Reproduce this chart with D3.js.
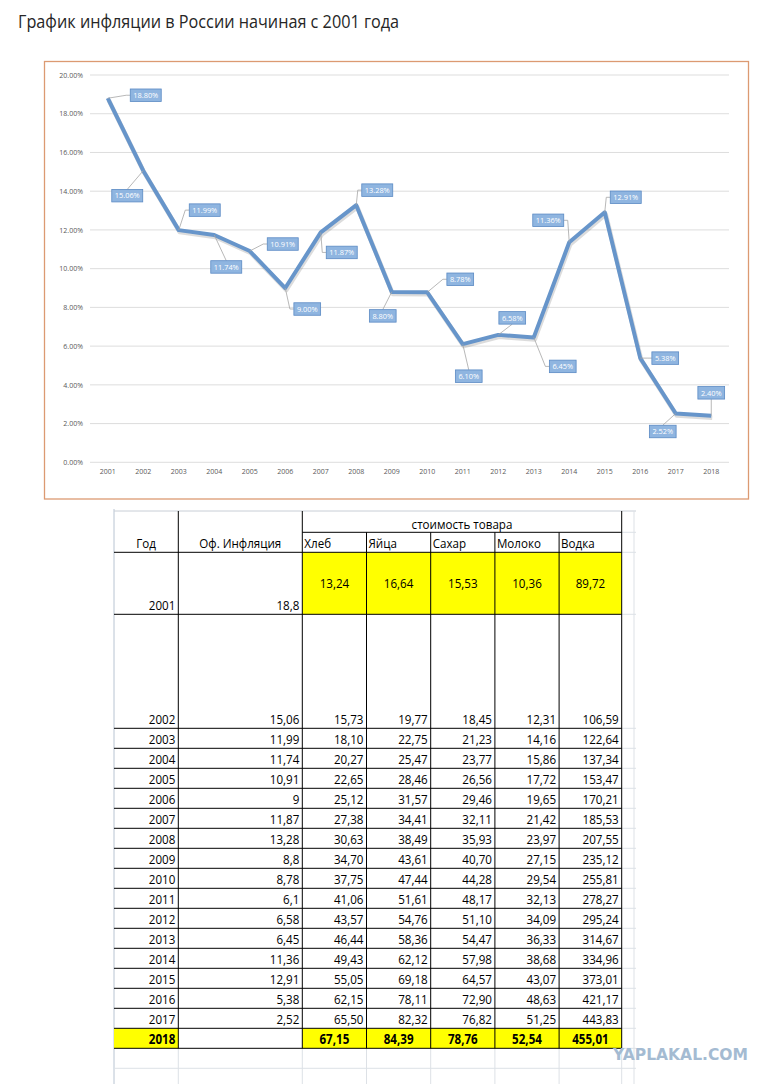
<!DOCTYPE html>
<html>
<head>
<meta charset="utf-8">
<script src="https://cdn.jsdelivr.net/npm/d3@7"></script>
<style>
  html, body { margin: 0; padding: 0; background: #fff; }
  svg { display: block; }
</style>
</head>
<body>
<svg id="root" width="774" height="1084"></svg>
<script>
// ---------------- DATA ----------------
const years = [2001, 2002, 2003, 2004, 2005, 2006, 2007, 2008, 2009, 2010, 2011, 2012, 2013, 2014, 2015, 2016, 2017, 2018];
const inflation = [18.80, 15.06, 11.99, 11.74, 10.91, 9.00, 11.87, 13.28, 8.80, 8.78, 6.10, 6.58, 6.45, 11.36, 12.91, 5.38, 2.52, 2.40];
const yTicks = [0, 2, 4, 6, 8, 10, 12, 14, 16, 18, 20];

const tableYears = [2001, 2002, 2003, 2004, 2005, 2006, 2007, 2008, 2009, 2010, 2011, 2012, 2013, 2014, 2015, 2016, 2017, 2018];
const tableInflation = [18.8, 15.06, 11.99, 11.74, 10.91, 9, 11.87, 13.28, 8.8, 8.78, 6.1, 6.58, 6.45, 11.36, 12.91, 5.38, 2.52, null];
const bread = [13.24, 15.73, 18.10, 20.27, 22.65, 25.12, 27.38, 30.63, 34.70, 37.75, 41.06, 43.57, 46.44, 49.43, 55.05, 62.15, 65.50, 67.15];
const eggs  = [16.64, 19.77, 22.75, 25.47, 28.46, 31.57, 34.41, 38.49, 43.61, 47.44, 51.61, 54.76, 58.36, 62.12, 69.18, 78.11, 82.32, 84.39];
const sugar = [15.53, 18.45, 21.23, 23.77, 26.56, 29.46, 32.11, 35.93, 40.70, 44.28, 48.17, 51.10, 54.47, 57.98, 64.57, 72.90, 76.82, 78.76];
const milk  = [10.36, 12.31, 14.16, 15.86, 17.72, 19.65, 21.42, 23.97, 27.15, 29.54, 32.13, 34.09, 36.33, 38.68, 43.07, 48.63, 51.25, 52.54];
const vodka = [89.72, 106.59, 122.64, 137.34, 153.47, 170.21, 185.53, 207.55, 235.12, 255.81, 278.27, 295.24, 314.67, 334.96, 373.01, 421.17, 443.83, 455.01];
const productNames = ["Хлеб", "Яйца", "Сахар", "Молоко", "Водка"];

const titleText = "График инфляции в России начиная с 2001 года";
const headerYear = "Год";
const headerInfl = "Оф. Инфляция";
const headerGroup = "стоимость товара";
const watermark = "YAPLAKAL.COM";

// label placement offsets (px, box centre relative to point) - layout only
const labelOffsets = [[38,-3],[-16,25],[26,-20],[12,32],[33,-7],[22,21],[21,20],[21,-15],[-9,24],[33,-13],[6,32],[14,-17],[29,29],[-21,-22],[21,-15],[25,0],[-13,18],[0,-23]];

// ---------------- DRAW ----------------
const svg = d3.select("#root");
const FONT = "'Open Sans', 'Noto Sans', 'DejaVu Sans', sans-serif";

// Title
const title = svg.append("text")
  .attr("x", 18).attr("y", 28)
  .attr("font-family", FONT)
  .attr("font-size", 18)
  .attr("fill", "#262626")
  .text(titleText);
title.attr("textLength", 381).attr("lengthAdjust", "spacingAndGlyphs");

// Chart frame
svg.append("rect")
  .attr("x", 44.5).attr("y", 61.5).attr("width", 704).attr("height", 437.5)
  .attr("fill", "#fff").attr("stroke", "#dc9a72").attr("stroke-width", 1.3);

const x = d3.scaleBand().domain(years).range([90, 729]);
const y = d3.scaleLinear().domain([0, 20]).range([462.3, 75]);
const cx = d => x(d) + x.bandwidth() / 2;

// gridlines
svg.append("g").selectAll("line").data(yTicks).join("line")
  .attr("x1", 90).attr("x2", 729)
  .attr("y1", d => y(d)).attr("y2", d => y(d))
  .attr("stroke", "#d9d9d9").attr("stroke-width", 0.9);

// y axis labels
const yAxis = d3.axisLeft(y).tickValues(yTicks).tickSize(0).tickPadding(0)
  .tickFormat(d => d.toFixed(2) + "%");
const gy = svg.append("g").attr("transform", "translate(83,0)").call(yAxis);
gy.select(".domain").remove();
gy.selectAll("text").attr("font-family", FONT).attr("font-size", 7).attr("fill", "#595959");

// x axis labels
const xAxis = d3.axisBottom(x).tickSize(0).tickPadding(0);
const gx = svg.append("g").attr("transform", "translate(0,469)").call(xAxis);
gx.select(".domain").remove();
gx.selectAll("text").attr("font-family", FONT).attr("font-size", 7).attr("fill", "#595959");

// line
const line = d3.line().x((d, i) => cx(years[i])).y(d => y(d));
svg.append("path").datum(inflation)
  .attr("d", line).attr("fill", "none")
  .attr("stroke", "rgba(60,60,60,0.18)").attr("stroke-width", 4.5)
  .attr("stroke-linejoin", "round")
  .attr("transform", "translate(1,2)");
svg.append("path").datum(inflation)
  .attr("d", line).attr("fill", "none")
  .attr("stroke", "#6795ca").attr("stroke-width", 4)
  .attr("stroke-linejoin", "round");

// data labels
const lblG = svg.append("g");
inflation.forEach((v, i) => {
  const px = cx(years[i]), py = y(v);
  const [dx, dy] = labelOffsets[i];
  const bx = px + dx, by = py + dy;
  const g = lblG.append("g");
  const t = g.append("text")
    .attr("x", bx).attr("y", by + 2.7)
    .attr("text-anchor", "middle")
    .attr("font-family", FONT).attr("font-size", 7.4)
    .attr("fill", "#fff")
    .text(v.toFixed(2) + "%");
  const tw = t.node().getComputedTextLength();
  const w = tw + 6, h = 12.5;
  // leader
  let pts;
  if (Math.abs(dx) > w / 2 + 2) {
    const ex = dx > 0 ? bx - w / 2 : bx + w / 2;
    const sx = dx > 0 ? ex - 4 : ex + 4;
    pts = [[px, py], [sx, by], [ex, by]];
  } else {
    const ey = dy > 0 ? by - h / 2 : by + h / 2;
    pts = [[px, py], [bx, ey]];
  }
  g.insert("path", "text")
    .attr("d", d3.line()(pts))
    .attr("fill", "none").attr("stroke", "#a6a6a6").attr("stroke-width", 0.8);
  g.insert("rect", "text")
    .attr("x", bx - w / 2).attr("y", by - h / 2)
    .attr("width", w).attr("height", h)
    .attr("fill", "#8fb5e0").attr("stroke", "#5b8ac4").attr("stroke-width", 0.8);
});

// ---------------- TABLE ----------------
const colX = [114, 178.3, 302.3, 366.5, 430.7, 494.9, 559.1, 621.7];
const rowTop = 511, rowH1 = 532.3, rowH2 = 552.3;
const rowBottoms = [614.3, 728.3];
for (let i = 2; i < tableYears.length; i++) rowBottoms.push(728.3 + (i - 1) * 20);
const rowTops = [rowH2].concat(rowBottoms.slice(0, -1));
const tableBottom = rowBottoms[rowBottoms.length - 1];

const tg = svg.append("g");
const TFONT = FONT;
const TSIZE = 13.5;
const SX = 0.86;

function cellText(xp, yp, txt, anchor, bold) {
  tg.append("text")
    .attr("transform", `translate(${xp},${yp}) scale(${SX},1)`)
    .attr("text-anchor", anchor)
    .attr("font-family", TFONT).attr("font-size", TSIZE)
    .attr("font-weight", bold ? "bold" : "normal")
    .attr("fill", "#000")
    .text(txt);
}

// faint excel gridlines
const faint = "#dde1e6";
tg.append("line").attr("x1", 114).attr("x2", 114).attr("y1", 509).attr("y2", 1084).attr("stroke", "#b8c4d2").attr("stroke-width", 1);
tg.append("line").attr("x1", 114).attr("x2", 636).attr("y1", rowTop).attr("y2", rowTop).attr("stroke", "#c8ced6").attr("stroke-width", 1);
colX.slice(1).forEach(cx0 => {
  tg.append("line").attr("x1", cx0).attr("x2", cx0).attr("y1", tableBottom).attr("y2", 1084).attr("stroke", faint).attr("stroke-width", 1);
});
tg.append("line").attr("x1", 114).attr("x2", 636).attr("y1", tableBottom + 20).attr("y2", tableBottom + 20).attr("stroke", faint);
[rowH1, rowH2].concat(rowBottoms).forEach(yy => {
  tg.append("line").attr("x1", 622).attr("x2", 636).attr("y1", yy).attr("y2", yy).attr("stroke", faint);
});
tg.append("line").attr("x1", 634).attr("x2", 634).attr("y1", rowTop).attr("y2", 1084).attr("stroke", faint);

// yellow fills
tg.append("rect").attr("x", colX[2]).attr("y", rowTops[0]).attr("width", colX[7] - colX[2]).attr("height", rowBottoms[0] - rowTops[0]).attr("fill", "#ffff00");
const lastI = tableYears.length - 1;
tg.append("rect").attr("x", colX[0]).attr("y", rowTops[lastI]).attr("width", colX[1] - colX[0]).attr("height", 20).attr("fill", "#ffff00");
tg.append("rect").attr("x", colX[2]).attr("y", rowTops[lastI]).attr("width", colX[7] - colX[2]).attr("height", 20).attr("fill", "#ffff00");

// black borders
const bl = (x1, y1, x2, y2) => tg.append("line").attr("x1", x1).attr("y1", y1).attr("x2", x2).attr("y2", y2).attr("stroke", "#000").attr("stroke-width", 1);
bl(colX[2], rowH1, colX[7], rowH1);
[rowH2].concat(rowBottoms).forEach(yy => bl(colX[0], yy, colX[7], yy));
[colX[1], colX[2], colX[7]].forEach(xx => bl(xx, rowTop, xx, tableBottom));
colX.slice(3, 7).forEach(xx => bl(xx, rowH1, xx, tableBottom));

// header texts
cellText((colX[0] + colX[1]) / 2, rowH2 - 4.5, headerYear, "middle");
cellText((colX[1] + colX[2]) / 2, rowH2 - 4.5, headerInfl, "middle");
cellText((colX[2] + colX[7]) / 2, rowH1 - 3.5, headerGroup, "middle");
productNames.forEach((n, j) => cellText(colX[2 + j] + 2, rowH2 - 4.5, n, "start"));

// rows
const fmt2 = v => v.toFixed(2).replace(".", ",");
const fmtI = v => String(v).replace(".", ",");
const products = [bread, eggs, sugar, milk, vodka];
tableYears.forEach((yr, i) => {
  const bottom = rowBottoms[i], top = rowTops[i];
  const bold = i === lastI;
  const base = bottom - 4.5;
  cellText(colX[1] - 3, base, String(yr), "end", bold);
  if (tableInflation[i] !== null) cellText(colX[2] - 3, base, fmtI(tableInflation[i]), "end", bold);
  products.forEach((arr, j) => {
    if (i === 0) {
      cellText((colX[2 + j] + colX[3 + j]) / 2, (top + bottom) / 2 + 4.5, fmt2(arr[i]), "middle", false);
    } else if (bold) {
      cellText((colX[2 + j] + colX[3 + j]) / 2, base, fmt2(arr[i]), "middle", true);
    } else {
      cellText(colX[3 + j] - 3, base, fmt2(arr[i]), "end", false);
    }
  });
});

// watermark
svg.append("text")
  .attr("x", 748).attr("y", 1060)
  .attr("text-anchor", "end")
  .attr("font-family", "'DejaVu Sans', sans-serif")
  .attr("font-weight", "bold")
  .attr("font-size", 15)
  .attr("fill", "#a4bbd2")
  .attr("textLength", 135).attr("lengthAdjust", "spacingAndGlyphs")
  .text(watermark);
</script>
</body>
</html>
